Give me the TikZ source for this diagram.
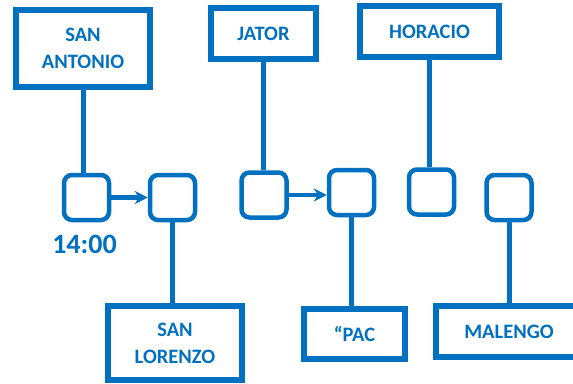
\documentclass[tikz,border=0pt]{standalone}
\usepackage{fontspec}
\setmainfont{Carlito}
\usetikzlibrary{arrows.meta}
\definecolor{stopblue}{HTML}{0070C0}

\tikzstyle{stop} = [rectangle, draw=stopblue, line width=4.5pt, minimum width=45pt, minimum height=45pt, rounded corners=8pt, inner sep=0pt]
\tikzstyle{place} = [rectangle, draw=stopblue, line width=6pt, text=stopblue, font=\fontsize{20.5}{27}\selectfont\bfseries, align=center, inner sep=0pt]
\tikzstyle{link} = [stopblue, line width=5pt]
\tikzstyle{arrow} = [stopblue, line width=4.5pt, -{Stealth[length=13pt, width=13pt]}]

\begin{document}
\begin{tikzpicture}[x=1pt, y=-1pt]
    \useasboundingbox (0,0) rectangle (573,383);
    % stops
    \node (stop1) [stop] at (86.5,197.5) {};
    \node (stop2) [stop] at (172.5,197.5) {};
    \node (stop3) [stop] at (264,195) {};
    \node (stop4) [stop] at (351.5,192.5) {};
    \node (stop5) [stop] at (431.5,192) {};
    \node (stop6) [stop] at (509,197.5) {};
    \node (time1) [text=stopblue, font=\fontsize{28}{32}\selectfont\bfseries] at (84.5,244) {14:00};
    % places
    \node (antonio) [place, minimum width=134pt, minimum height=77pt] at (83,48.5) {SAN\\ANTONIO};
    \node (jator) [place, minimum width=105pt, minimum height=51pt] at (263.5,33.5) {JATOR};
    \node (horacio) [place, minimum width=139pt, minimum height=51pt] at (429.5,31.5) {HORACIO};
    \node (lorenzo) [place, minimum width=134pt, minimum height=74pt] at (175,343) {SAN\\LORENZO};
    \node (pac) [place, minimum width=101pt, minimum height=50pt] at (354.5,334) {``PAC};
    \node (malengo) [place, minimum width=146pt, minimum height=51pt] at (509,331.5) {MALENGO};
    % connectors
    \draw [link] (antonio.south) -- (antonio.south |- stop1.north);
    \draw [link] (jator.south) -- (jator.south |- stop3.north);
    \draw [link] (horacio.south) -- (horacio.south |- stop5.north);
    \draw [link] (stop2.south) -- (stop2.south |- lorenzo.north);
    \draw [link] (stop4.south) -- (stop4.south |- pac.north);
    \draw [link] (stop6.south) -- (stop6.south |- malengo.north);
    \draw [arrow] (stop1) -- (stop2);
    \draw [arrow] (stop3) -- (stop4.west |- stop3);
\end{tikzpicture}
\end{document}
